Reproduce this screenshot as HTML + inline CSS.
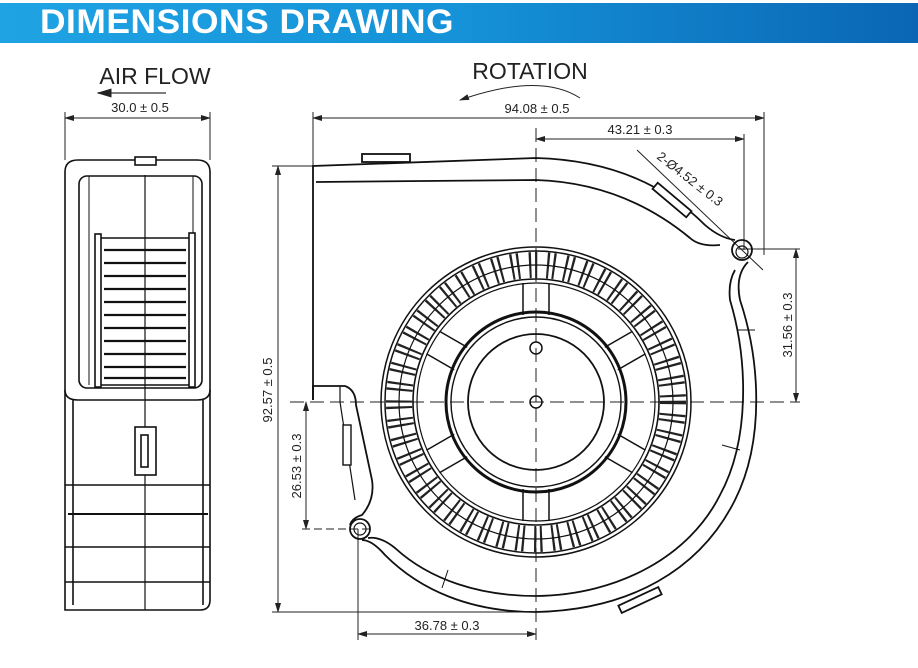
<!DOCTYPE html>
<html><head><meta charset="utf-8"><style>
html,body{margin:0;padding:0;background:#fff;}
body{width:918px;height:668px;overflow:hidden;position:relative;font-family:"Liberation Sans",sans-serif;}
.hdr{position:absolute;left:0;top:3px;width:918px;height:40px;background:linear-gradient(90deg,#1fa3e3 0%,#1592d8 50%,#0a66b5 100%);}
.hdr span{position:absolute;left:40px;top:0px;color:#fff;font-weight:bold;font-size:34px;letter-spacing:0.5px;transform:scaleX(1.04);transform-origin:left;white-space:nowrap;}
svg{position:absolute;left:0;top:0;}
</style></head><body>
<div class="hdr"><span>DIMENSIONS DRAWING</span></div>
<svg width="918" height="668" viewBox="0 0 918 668" font-family="Liberation Sans, sans-serif">
<defs>
<marker id="a" markerWidth="10" markerHeight="6" refX="9" refY="3" orient="auto"><path d="M0,0 L10,3 L0,6z" fill="#222"/></marker>
<marker id="b" markerWidth="10" markerHeight="6" refX="1" refY="3" orient="auto"><path d="M10,0 L0,3 L10,6z" fill="#222"/></marker>
</defs>
<g fill="#222">
<text x="155" y="84" font-size="23" text-anchor="middle">AIR FLOW</text>
<text x="530" y="79" font-size="23" text-anchor="middle">ROTATION</text>
<text x="140" y="112" font-size="13" text-anchor="middle">30.0 ± 0.5</text>
<text x="537" y="113" font-size="13" text-anchor="middle">94.08 ± 0.5</text>
<text x="640" y="134" font-size="13" text-anchor="middle">43.21 ± 0.3</text>
<text x="447" y="630" font-size="13" text-anchor="middle">36.78 ± 0.3</text>
<text transform="translate(272,390) rotate(-90)" font-size="13" text-anchor="middle">92.57 ± 0.5</text>
<text transform="translate(301,466) rotate(-90)" font-size="13" text-anchor="middle">26.53 ± 0.3</text>
<text transform="translate(792,325) rotate(-90)" font-size="13" text-anchor="middle">31.56 ± 0.3</text>
<text transform="translate(656,158) rotate(38)" font-size="13">2-Ø4.52 ± 0.3</text>
</g>
<g stroke="#222" fill="none" stroke-width="1">
<line x1="166" y1="93" x2="98" y2="93" marker-end="url(#a)" stroke="#555" stroke-width="1.5"/>
<path d="M580,98 Q540,72 460,100" marker-end="url(#a)"/>
<line x1="65" y1="118" x2="210" y2="118" marker-start="url(#b)" marker-end="url(#a)"/>
<line x1="65" y1="112" x2="65" y2="160"/><line x1="210" y1="112" x2="210" y2="160"/>
<line x1="313" y1="118" x2="764" y2="118" marker-start="url(#b)" marker-end="url(#a)"/>
<line x1="313" y1="112" x2="313" y2="166"/><line x1="764" y1="112" x2="764" y2="255"/>
<line x1="536" y1="139" x2="744" y2="139" marker-start="url(#b)" marker-end="url(#a)"/>
<line x1="744" y1="134" x2="744" y2="250"/>
<line x1="796" y1="249" x2="796" y2="402" marker-start="url(#b)" marker-end="url(#a)"/>
<line x1="738" y1="249" x2="800" y2="249"/>
<line x1="278" y1="166" x2="278" y2="612" marker-start="url(#b)" marker-end="url(#a)"/>
<line x1="272" y1="166" x2="313" y2="166"/><line x1="272" y1="612" x2="536" y2="612"/>
<line x1="306" y1="402" x2="306" y2="529" marker-start="url(#b)" marker-end="url(#a)"/>
<line x1="302" y1="529" x2="370" y2="529" stroke-dasharray="8 4"/>
<line x1="358" y1="634" x2="536" y2="634" marker-start="url(#b)" marker-end="url(#a)"/>
<line x1="358" y1="529" x2="358" y2="640"/>
<line x1="637" y1="150" x2="763" y2="270"/>
<line x1="536" y1="128" x2="536" y2="640" stroke-dasharray="14 6"/>
<line x1="290" y1="402" x2="800" y2="402" stroke-dasharray="14 6"/>
</g>
<g stroke="#111" fill="none" stroke-width="1.6">
<path d="M65,172 Q65,160 78,160 L197,160 Q210,160 210,172 L210,600 Q210,610 200,610 L65,610 Z"/>
<rect x="79" y="176" width="123" height="212" rx="8"/>
<path d="M65,390 Q65,400 78,400 L197,400 Q210,400 210,390"/>
<rect x="135" y="157" width="21" height="8" fill="#fff"/>
<rect x="95" y="234" width="6" height="153"/>
<rect x="189" y="233" width="6" height="154"/>
<line x1="101" y1="238" x2="189" y2="238"/>
<line x1="101" y1="385" x2="189" y2="385"/>
<line x1="145" y1="175" x2="145" y2="610" stroke-width="1.2"/>
<line x1="89" y1="176" x2="89" y2="385" stroke-width="1"/>
<line x1="193" y1="176" x2="193" y2="233" stroke-width="1"/>
<line x1="73" y1="400" x2="73" y2="605"/>
<line x1="203" y1="400" x2="203" y2="605"/>
<line x1="65" y1="485" x2="210" y2="485"/>
<line x1="68" y1="514" x2="208" y2="514" stroke-width="2"/>
<line x1="65" y1="547" x2="210" y2="547"/>
<line x1="65" y1="582" x2="210" y2="582"/>
<rect x="135" y="427" width="21" height="48" fill="#fff"/>
<rect x="141" y="435" width="7" height="32"/>
</g>
<g stroke="#111" stroke-width="2.2">
<line x1="104" y1="250" x2="186" y2="250"/><line x1="104" y1="263" x2="186" y2="263"/>
<line x1="104" y1="276" x2="186" y2="276"/><line x1="104" y1="289" x2="186" y2="289"/>
<line x1="104" y1="302" x2="186" y2="302"/><line x1="104" y1="315" x2="186" y2="315"/>
<line x1="104" y1="328" x2="186" y2="328"/><line x1="104" y1="341" x2="186" y2="341"/>
<line x1="104" y1="354" x2="186" y2="354"/><line x1="104" y1="367" x2="186" y2="367"/>
<line x1="104" y1="378" x2="186" y2="378"/>
</g>
<g stroke="#111" fill="none" stroke-width="1.8">
<path d="M313,400 L313,166 L536,158 C610,160 665,185 705,225 Q720,238 735,240"/>
<path d="M316,182 L536,180 C600,182 650,205 690,238 Q700,247 720,245"/>
<circle cx="742" cy="250" r="10"/>
<circle cx="742" cy="252" r="6" stroke-width="1.2"/>
<path d="M748,262 Q735,275 740,300 C760,360 765,440 735,500 C700,570 630,610 536,612 C470,612 420,590 385,555 Q372,540 362,540"/>
<path d="M735,270 Q728,282 730,300 C748,360 750,440 720,495 C690,555 620,595 536,596 C480,596 430,580 395,548 Q380,536 368,538"/>
<circle cx="360" cy="529" r="10"/>
<circle cx="360" cy="529" r="6" stroke-width="1.2"/>
<path d="M313,400 L313,386 L345,386 Q356,390 356,405 L372,480 Q375,500 362,515 Q352,518 350,525"/>
<path d="M340,386 L340,402 L355,500" stroke-width="1.2"/>
<rect x="362" y="154" width="48" height="8" fill="#fff"/>
<rect x="343" y="425" width="8" height="40" fill="#fff" stroke-width="1.4"/>
<g transform="translate(672,200) rotate(40)"><rect x="-22" y="-4" width="44" height="8" fill="#fff"/></g>
<g transform="translate(640,600) rotate(-25)"><rect x="-22" y="-4" width="44" height="8" fill="#fff"/></g>
<line x1="737" y1="330" x2="755" y2="330" stroke-width="1"/>
<line x1="722" y1="445" x2="740" y2="450" stroke-width="1"/>
<line x1="448" y1="570" x2="442" y2="588" stroke-width="1"/>
</g>
<g stroke="#111" fill="none">
<circle cx="536" cy="402" r="155" stroke-width="1.5"/>
<circle cx="536" cy="402" r="151" stroke-width="1.5"/>
<circle cx="536" cy="402" r="137" stroke="#222" stroke-width="26" stroke-dasharray="2.2 15.7"/>
<circle cx="536" cy="402" r="137" stroke="#222" stroke-width="26" stroke-dasharray="2.2 15.7" stroke-dashoffset="6"/>
<circle cx="536" cy="402" r="137" stroke-width="1.2"/>
<circle cx="536" cy="402" r="123" stroke-width="1.6"/>
<circle cx="536" cy="402" r="119" stroke-width="1.2"/>
<circle cx="536" cy="402" r="90" stroke-width="3"/>
<circle cx="536" cy="402" r="85" stroke-width="1.4"/>
<circle cx="536" cy="402" r="68" stroke-width="1.8"/>
<circle cx="536" cy="402" r="6" stroke-width="1.5"/>
<circle cx="536" cy="348" r="6" stroke-width="1.5"/>
<g stroke-width="1.5">
<g transform="rotate(0 536 402)"><path d="M523,283 L523,315 M549,283 L549,315"/></g>
<g transform="rotate(60 536 402)"><path d="M523,283 L523,315 M549,283 L549,315"/></g>
<g transform="rotate(120 536 402)"><path d="M523,283 L523,315 M549,283 L549,315"/></g>
<g transform="rotate(180 536 402)"><path d="M523,283 L523,315 M549,283 L549,315"/></g>
<g transform="rotate(240 536 402)"><path d="M523,283 L523,315 M549,283 L549,315"/></g>
<g transform="rotate(300 536 402)"><path d="M523,283 L523,315 M549,283 L549,315"/></g>
</g>
</g>
</svg>
</body></html>
